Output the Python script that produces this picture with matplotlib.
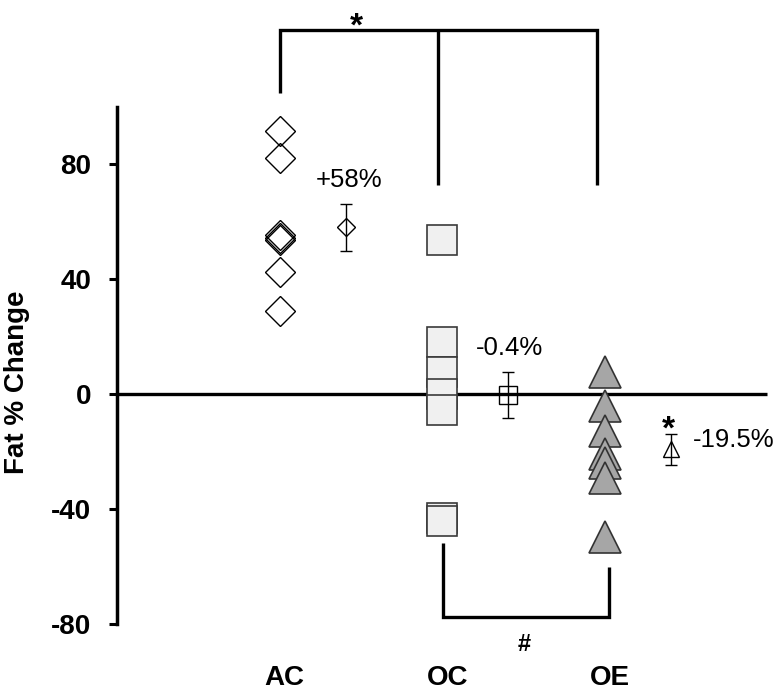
import matplotlib
matplotlib.use('Agg')
import matplotlib.pyplot as plt
from matplotlib.transforms import ScaledTranslation

plt.rcParams['font.family'] = ['Liberation Sans', 'DejaVu Sans']

# ---- data ----
categories = ['AC', 'OC', 'OE']
ac_values = [91.5, 82.0, 55.3, 54.4, 53.4, 42.3, 29.0]
oc_values = [53.7, 18.0, 7.8, 0.0, -5.4, -43.3, -44.0]
oe_values = [7.6, -4.0, -12.7, -21.0, -24.0, -29.3, -49.6]
group_means = [58.05, -0.35, -19.3]
group_sems = [8.15, 8.15, 5.4]
mean_labels = ['+58%', '-0.4%', '-19.5%']
y_ticks = [-80, -40, 0, 40, 80]

fig = plt.figure(figsize=(7.79, 6.92), dpi=100)
ax = fig.add_axes([117 / 779, (692 - 652.75) / 692, 662 / 779, (652.75 - 5.875) / 692])
ax.set_xlim(0, 4.069)
ax.set_ylim(-90, 135)

pos = [1, 2, 3]
mean_x = [p + 0.405 for p in pos]

# zero line
ax.plot([0, 3.995], [0, 0], color='black', lw=2.4, solid_capstyle='butt', zorder=1.5)

# individual values
ax.plot([pos[0]] * len(ac_values), ac_values, ls='none', marker='D', ms=15.3,
        mfc='none', mec='black', mew=1.0, zorder=3)
ax.plot([pos[1]] * len(oc_values), oc_values, ls='none', marker='s', ms=21.6,
        mfc='#f0f0f0', mec='#3a3a3a', mew=1.2, zorder=3)
ax.plot([pos[2]] * len(oe_values), oe_values, ls='none', marker='^', ms=23,
        mfc='#a6a6a6', mec='#333333', mew=1.2, zorder=3)

# means with error bars
ax.errorbar(mean_x, group_means, yerr=group_sems, fmt='none', ecolor='black',
            elinewidth=1.0, capsize=4, capthick=1.0, zorder=3)
for mx, m, mk, ms in zip(mean_x, group_means, ['D', 's', '^'], [8.7, 12.7, 12.2]):
    ax.plot([mx], [m], ls='none', marker=mk, ms=ms, mfc='none', mec='black', mew=1.0, zorder=4)

# mean labels
ax.text(mean_x[0] + 0.02, 71.9, mean_labels[0], fontsize=18.5, ha='center', va='baseline')
ax.text(mean_x[1] + 0.01, 13.6, mean_labels[1], fontsize=18.5, ha='center', va='baseline')
ax.text(3.538, -18.5, mean_labels[2], fontsize=18.5, ha='left', va='baseline')

# significance brackets
blw = 2.4
ax.plot([1, 1, 2.948, 2.948], [104.8, 126.6, 126.6, 72.7], color='black', lw=blw,
        solid_joinstyle='miter', solid_capstyle='butt', clip_on=False)
ax.plot([1.97, 1.97], [126.6, 72.7], color='black', lw=blw, solid_capstyle='butt')
ax.text(1.472, 124.6, '*', fontsize=24, fontweight='bold', ha='center', va='baseline')

ax.plot([2.004, 2.004, 3.023, 3.023], [-51.7, -77.5, -77.5, -60.1], color='black', lw=blw,
        solid_joinstyle='miter', solid_capstyle='butt')
ax.text(2.50, -87.0, '#', fontsize=17, fontweight='bold', ha='center', va='center')
ax.text(3.391, -15.5, '*', fontsize=24, fontweight='bold', ha='center', va='baseline')

# axes styling
for s in ['top', 'right', 'bottom']:
    ax.spines[s].set_visible(False)
ax.spines['left'].set_linewidth(2.5)
ax.spines['left'].set_bounds(-80, 100)

ax.set_yticks(y_ticks)
ax.set_yticklabels([str(t) for t in y_ticks], fontsize=20, fontweight='bold')
ax.tick_params(axis='y', length=5.5, width=2.2, pad=13, direction='out')

ax.set_xticks(pos)
ax.set_xticklabels(categories, fontsize=20, fontweight='bold')
ax.tick_params(axis='x', length=0, pad=8.8)
off = ScaledTranslation(5 / 100, 0, fig.dpi_scale_trans)
for lab in ax.get_xticklabels():
    lab.set_transform(lab.get_transform() + off)

fig.text(17 / 779, 1 - 382.5 / 692, 'Fat % Change', rotation=90, fontsize=20,
         fontweight='bold', ha='center', va='center')

fig.savefig('out.png', dpi=100)
